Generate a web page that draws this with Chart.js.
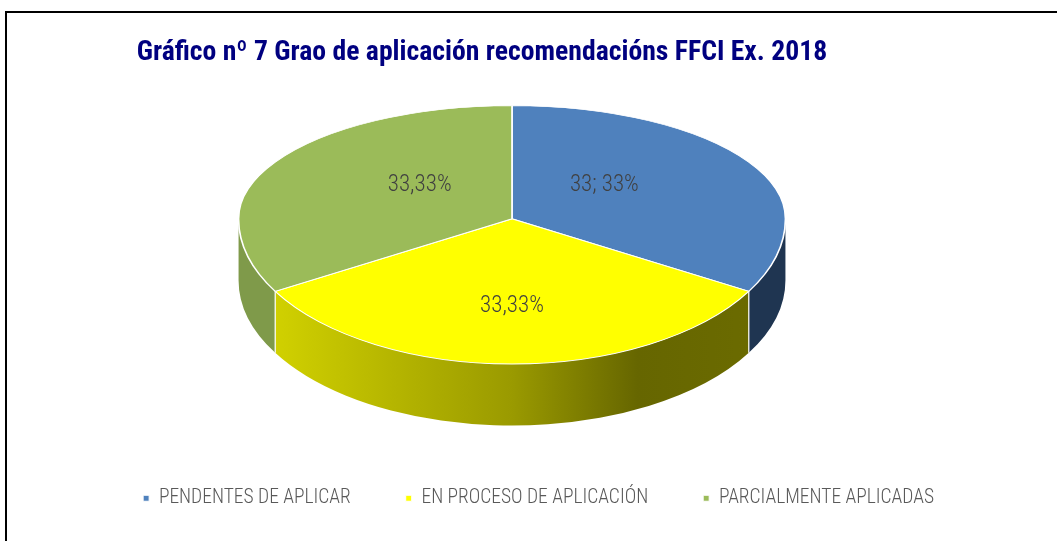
<!DOCTYPE html>
<html>
<head>
<meta charset="utf-8">
<script src="https://cdn.jsdelivr.net/npm/chart.js@4.4.0/dist/chart.umd.min.js"></script>
<style>
  body { margin: 0; background: #fff; }
  #frame { position: absolute; left: 5px; top: 11px; width: 1100px; height: 600px;
           border-left: 2px solid #000; border-top: 2px solid #000; }
  #wrap { position: absolute; left: 0; top: 0; width: 1057px; height: 541px; }
</style>
</head>
<body>
<div id="frame"></div>
<div id="wrap"><canvas id="grao"></canvas></div>
<script>
// data
const categories = ['PENDENTES DE APLICAR', 'EN PROCESO DE APLICACIÓN', 'PARCIALMENTE APLICADAS'];
const values = [33, 33, 33];
const labelModes = ['value+percent', 'percent', 'percent'];
const chartTitle = 'Gráfico nº 7 Grao de aplicación recomendacións FFCI Ex. 2018';

// colours
const topColors = ['#4f81bd', '#ffff00', '#9bbb59'];
const sideColors = ['#1f3551', null, '#7f9a4a'];

// 3d look, relative to half the chart area height.
// back half flatter than front half to fake the perspective
const SX = 1.668, SY_BACK = 0.69, SY_FRONT = 0.886, DEPTH = 0.375;
const LABEL_RX = 0.39, LABEL_RY = 0.6;

function geometry(chart) {
  const a = chart.chartArea;
  const R = (a.bottom - a.top) / 2;
  const arc = chart.getDatasetMeta(0).data[0];
  const ryBack = R * SY_BACK;
  return {
    x: arc.x, y: arc.y, r: arc.outerRadius,
    cx: (a.left + a.right) / 2, cy: a.top + ryBack,
    rx: R * SX, ryBack, ryFront: R * SY_FRONT, depth: R * DEPTH
  };
}

function sideFill(ctx, g, i) {
  if (sideColors[i]) return sideColors[i];
  const grad = ctx.createLinearGradient(g.cx - g.rx, 0, g.cx + g.rx, 0);
  grad.addColorStop(0, '#d9d900');
  grad.addColorStop(0.3, '#b3b300');
  grad.addColorStop(0.5, '#9a9a00');
  grad.addColorStop(0.73, '#666600');
  grad.addColorStop(1, '#6c6c00');
  return grad;
}

function squash(ctx, g, ry) {
  ctx.translate(g.cx, g.cy);
  ctx.scale(g.rx / g.r, ry / g.r);
  ctx.translate(-g.x, -g.y);
}

const pie3d = {
  id: 'pie3d',
  beforeDatasetsDraw(chart) {
    const ctx = chart.ctx;
    const g = geometry(chart);
    const arcs = chart.getDatasetMeta(0).data;
    // side walls, only the front half (0..PI) is visible
    arcs.forEach((arc, i) => {
      const {startAngle, endAngle} = arc.getProps(['startAngle', 'endAngle'], true);
      for (let k = -1; k <= 1; k++) {
        const lo = Math.max(startAngle, k * 2 * Math.PI);
        const hi = Math.min(endAngle, k * 2 * Math.PI + Math.PI);
        if (hi <= lo) continue;
        ctx.beginPath();
        ctx.ellipse(g.cx, g.cy, g.rx, g.ryFront, 0, lo, hi);
        ctx.ellipse(g.cx, g.cy + g.depth, g.rx, g.ryFront, 0, hi, lo, true);
        ctx.closePath();
        ctx.fillStyle = sideFill(ctx, g, i);
        ctx.fill();
      }
      let a = startAngle % (2 * Math.PI);
      if (a < 0) a += 2 * Math.PI;
      if (a > 0 && a < Math.PI) {
        const px = g.cx + Math.cos(a) * g.rx, py = g.cy + Math.sin(a) * g.ryFront;
        ctx.beginPath();
        ctx.moveTo(px, py);
        ctx.lineTo(px, py + g.depth);
        ctx.strokeStyle = '#ffffff';
        ctx.lineWidth = 1.2;
        ctx.stroke();
      }
    });
    // back half of the top face
    ctx.save();
    ctx.beginPath();
    ctx.rect(0, 0, chart.width, Math.round(g.cy));
    ctx.clip();
    squash(ctx, g, g.ryBack);
  },
  afterDatasetsDraw(chart) {
    const ctx = chart.ctx;
    ctx.restore();
    const g = geometry(chart);
    // front half of the top face
    ctx.save();
    ctx.beginPath();
    ctx.rect(0, Math.round(g.cy), chart.width, chart.height);
    ctx.clip();
    squash(ctx, g, g.ryFront);
    chart.getDatasetMeta(0).controller.draw();
    ctx.restore();

    const total = values.reduce((s, v) => s + v, 0);
    chart.getDatasetMeta(0).data.forEach((arc, i) => {
      const {startAngle, endAngle} = arc.getProps(['startAngle', 'endAngle'], true);
      const mid = (startAngle + endAngle) / 2;
      const s = Math.sin(mid);
      const pct = values[i] / total * 100;
      const text = labelModes[i] === 'value+percent'
        ? values[i] + '; ' + Math.round(pct) + '%'
        : pct.toFixed(2).replace('.', ',') + '%';
      ctx.save();
      ctx.font = '300 23px "Roboto Condensed"';
      ctx.fillStyle = '#404040';
      ctx.textAlign = 'center';
      ctx.textBaseline = 'middle';
      ctx.fillText(text,
        g.cx + Math.cos(mid) * g.rx * LABEL_RX,
        g.cy + s * (s < 0 ? g.ryBack : g.ryFront) * LABEL_RY);
      ctx.restore();
    });
  }
};

const ctx = document.getElementById('grao').getContext('2d');
const myChart = new Chart(ctx, {
  type: 'pie',
  data: {
    labels: categories,
    datasets: [{
      data: values,
      backgroundColor: topColors,
      borderColor: '#ffffff',
      borderWidth: 1
    }]
  },
  options: {
    responsive: true,
    maintainAspectRatio: false,
    animation: false,
    events: [],
    layout: { padding: { left: -25, right: 68, top: 0, bottom: 23 } },
    plugins: {
      title: {
        display: true,
        text: chartTitle,
        color: '#000080',
        font: { family: 'Roboto Condensed', size: 27.7, weight: 'bold', lineHeight: 1.2 },
        padding: { top: 36, bottom: 36.4 }
      },
      // empty spacer on the left so the pie sits where the original has it
      subtitle: {
        display: true,
        position: 'left',
        text: '',
        font: { size: 60, lineHeight: 1 },
        padding: 0
      },
      legend: {
        position: 'bottom',
        align: 'end',
        labels: {
          boxWidth: 6,
          boxHeight: 6,
          padding: 55,
          color: '#595959',
          font: { family: 'Roboto Condensed', size: 19.5, weight: 300 }
        }
      },
      tooltip: { enabled: false }
    }
  },
  plugins: [pie3d]
});
</script>
</body>
</html>
